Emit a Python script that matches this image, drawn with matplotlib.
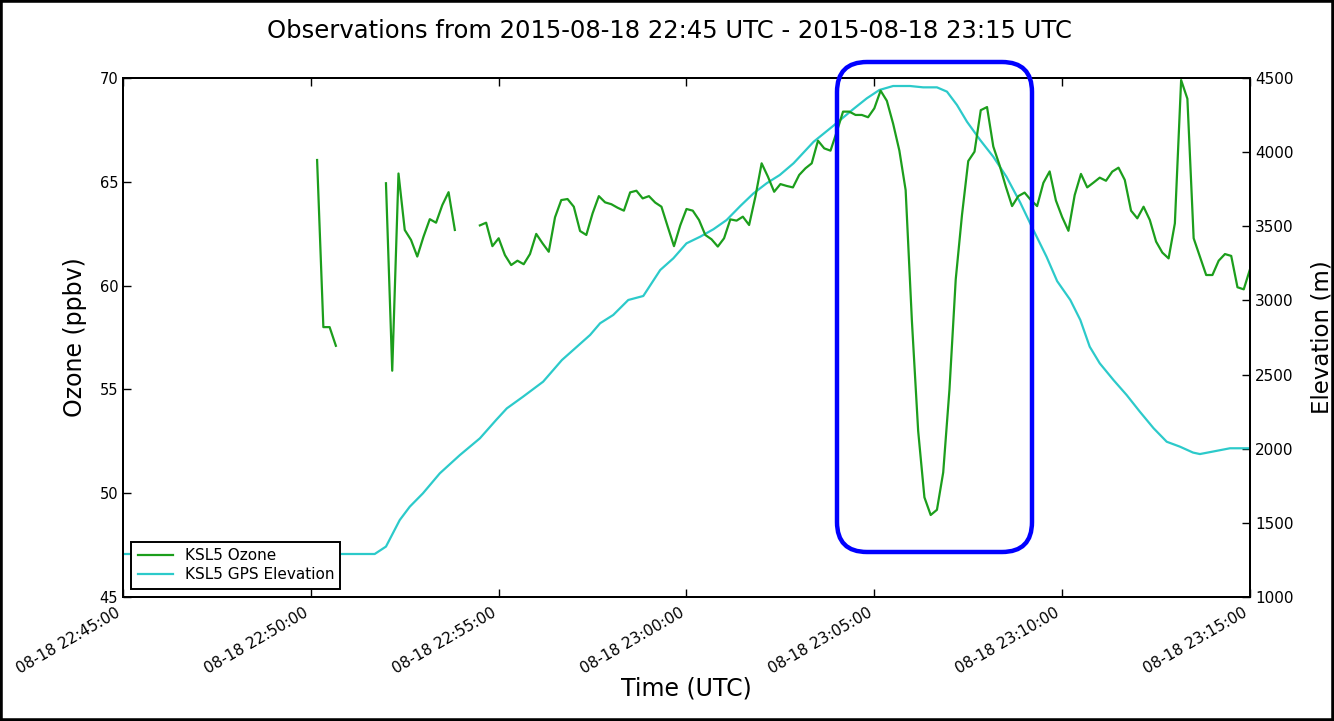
import numpy as np
import pandas as pd
import matplotlib
matplotlib.use("Agg")
import matplotlib.pyplot as plt
import matplotlib.dates as mdates
from matplotlib.patches import FancyBboxPatch, Rectangle

# ---------------- data ----------------
t_start = pd.Timestamp("2015-08-18 22:45:00")
t_end = pd.Timestamp("2015-08-18 23:15:00")

# Ozone (ppbv), 10-second samples, three segments separated by data gaps
ozone_seg1_start = "2015-08-18 22:50:10"
ozone_seg1 = [66.05, 58.0, 58.0, 57.1]

ozone_seg2_start = "2015-08-18 22:52:00"
ozone_seg2 = [64.93, 55.9, 65.4, 62.68, 62.2, 61.4, 62.36, 63.2, 63.03, 63.88,
              64.5, 62.68]

ozone_seg3_start = "2015-08-18 22:54:30"
ozone_seg3 = [62.9, 63.03, 61.9, 62.28, 61.47, 60.99, 61.2, 61.03, 61.52, 62.49,
              62.04, 61.63, 63.29, 64.12, 64.17, 63.8, 62.63, 62.44, 63.48, 64.31,
              64.01, 63.92, 63.75, 63.61, 64.49, 64.57, 64.2, 64.31, 64.0, 63.8,
              62.84, 61.9, 62.9, 63.69, 63.61, 63.16, 62.44, 62.23, 61.88, 62.28,
              63.19, 63.13, 63.32, 62.92, 64.28, 65.89, 65.25, 64.52, 64.89, 64.8,
              64.73, 65.33, 65.65, 65.89, 66.98, 66.61, 66.5, 67.41, 68.38, 68.38,
              68.22, 68.22, 68.11, 68.54, 69.39, 68.9, 67.8, 66.5, 64.6,
              58.3, 53.0, 49.8, 48.95, 49.2, 51.0, 55.0, 60.3, 63.4, 66.0,
              66.45, 68.45, 68.6, 66.7, 65.8, 64.77, 63.83, 64.31, 64.48, 64.12,
              63.83, 64.95, 65.5, 64.1, 63.3, 62.64, 64.36, 65.38, 64.73, 64.96,
              65.2, 65.05, 65.49, 65.68, 65.09, 63.61, 63.24, 63.8, 63.16, 62.12,
              61.59, 61.31, 63.0, 69.9, 69.0, 62.28, 61.39, 60.51, 60.51, 61.2,
              61.52, 61.43, 59.92, 59.82, 60.79]

# GPS elevation (m), readings at seconds after 22:45:00
elev_seconds = [0, 402, 420, 442, 458, 479, 506, 538, 570, 596, 613, 639, 671,
                701, 725, 746, 762, 783, 807, 831, 858, 879, 900, 922, 943, 964,
                986, 1007, 1028, 1049, 1071, 1103, 1134, 1166, 1188, 1208, 1230,
                1257, 1278, 1300, 1316, 1332, 1348, 1369, 1390, 1411, 1433, 1454,
                1475, 1492, 1513, 1529, 1544, 1560, 1582, 1603, 1624, 1646, 1667,
                1688, 1709, 1720, 1741, 1768, 1800]
elev_values = [1290, 1290, 1340, 1519, 1609, 1699, 1834, 1957, 2070, 2194, 2272,
               2351, 2452, 2598, 2688, 2767, 2846, 2902, 3003, 3030, 3205, 3284,
               3385, 3430, 3480, 3542, 3637, 3722, 3790, 3846, 3925, 4070, 4176,
               4289, 4363, 4419, 4446, 4446, 4437, 4437, 4408, 4318, 4205, 4082,
               3969, 3834, 3660, 3475, 3295, 3130, 3003, 2868, 2688, 2576, 2463,
               2362, 2250, 2138, 2047, 2014, 1974, 1964, 1981, 2003, 2003]

title = "Observations from 2015-08-18 22:45 UTC - 2015-08-18 23:15 UTC"
ozone_label = "KSL5 Ozone"
elev_label = "KSL5 GPS Elevation"

# ---------------- build series ----------------
def seg(start, vals):
    return pd.Series(vals, index=pd.date_range(start, periods=len(vals), freq="10s"))

parts = []
for st, v in [(ozone_seg1_start, ozone_seg1), (ozone_seg2_start, ozone_seg2),
              (ozone_seg3_start, ozone_seg3)]:
    s = seg(st, v)
    parts.append(s)
    parts.append(pd.Series([np.nan], index=[s.index[-1] + pd.Timedelta(seconds=5)]))
ozone = pd.concat(parts[:-1])

elev_t = t_start + pd.to_timedelta(elev_seconds, unit="s")

# ---------------- plot ----------------
plt.rcParams['font.family'] = ['DejaVu Sans']
W, H = 1334, 721
fig = plt.figure(figsize=(W / 100, H / 100), dpi=100)
fig.patch.set_facecolor("white")

ax = fig.add_axes([123 / W, 1 - 597 / H, (1250 - 123) / W, (597 - 78) / H])
ax2 = ax.twinx()

green = "#1c9e1c"
cyan = "#2ccaca"

l1, = ax.plot(ozone.index, ozone.values, color=green, lw=1.6, label=ozone_label)
l2, = ax2.plot(elev_t, elev_values, color=cyan, lw=1.6, label=elev_label)

ax.set_xlim(t_start, t_end)
ax.set_ylim(45, 70)
ax2.set_ylim(1000, 4500)
ax.set_yticks(np.arange(45, 71, 5))
ax2.set_yticks(np.arange(1000, 4501, 500))

ax.xaxis.set_major_locator(mdates.MinuteLocator(byminute=range(0, 60, 5)))
ax.xaxis.set_major_formatter(mdates.DateFormatter("%m-%d %H:%M:%S"))
for lbl in ax.get_xticklabels():
    lbl.set_rotation(30)
    lbl.set_ha("right")

for a in (ax, ax2):
    for sp in a.spines.values():
        sp.set_linewidth(1.4)
        sp.set_color("black")
ax.tick_params(axis="x", direction="in", length=6, width=1, top=True,
               labelsize=11, pad=6)
ax.tick_params(axis="y", direction="in", length=6, width=1, labelsize=10.5,
               left=True, right=False)
ax2.tick_params(axis="y", direction="in", length=6, width=1, labelsize=11)

ax.set_ylabel("Ozone (ppbv)", fontsize=17, labelpad=9)
ax2.set_ylabel("Elevation (m)", fontsize=16.5, labelpad=12)
ax.set_xlabel("Time (UTC)", fontsize=17, labelpad=0)

ax.set_zorder(ax2.get_zorder() + 1)
ax.patch.set_visible(False)

leg = ax.legend([l1, l2], [ozone_label, elev_label], loc="lower left",
                fontsize=11, fancybox=False, frameon=True, framealpha=1,
                edgecolor="black", borderaxespad=0.55, handlelength=2.3,
                borderpad=0.4, labelspacing=0.28)
leg.get_frame().set_linewidth(1.4)

fig.text(0.5015, 1 - 31 / H, title, ha="center", va="center", fontsize=17.5)

# blue rounded highlight box (figure pixel geometry)
x0, x1, y0, y1 = 837, 1032, 62, 552
box = FancyBboxPatch((x0 / W, 1 - y1 / H), (x1 - x0) / W, (y1 - y0) / H,
                     boxstyle="round,pad=0,rounding_size=%f" % (30 / W),
                     mutation_aspect=W / H, transform=fig.transFigure,
                     facecolor="none", edgecolor="#0000ff", lw=3.2, zorder=10)
fig.patches.append(box)

# figure border
fig.patches.append(Rectangle((0, 0), 1, 1, transform=fig.transFigure,
                             facecolor="none", edgecolor="black", lw=4, zorder=11))

fig.savefig("out.png", dpi=100)
